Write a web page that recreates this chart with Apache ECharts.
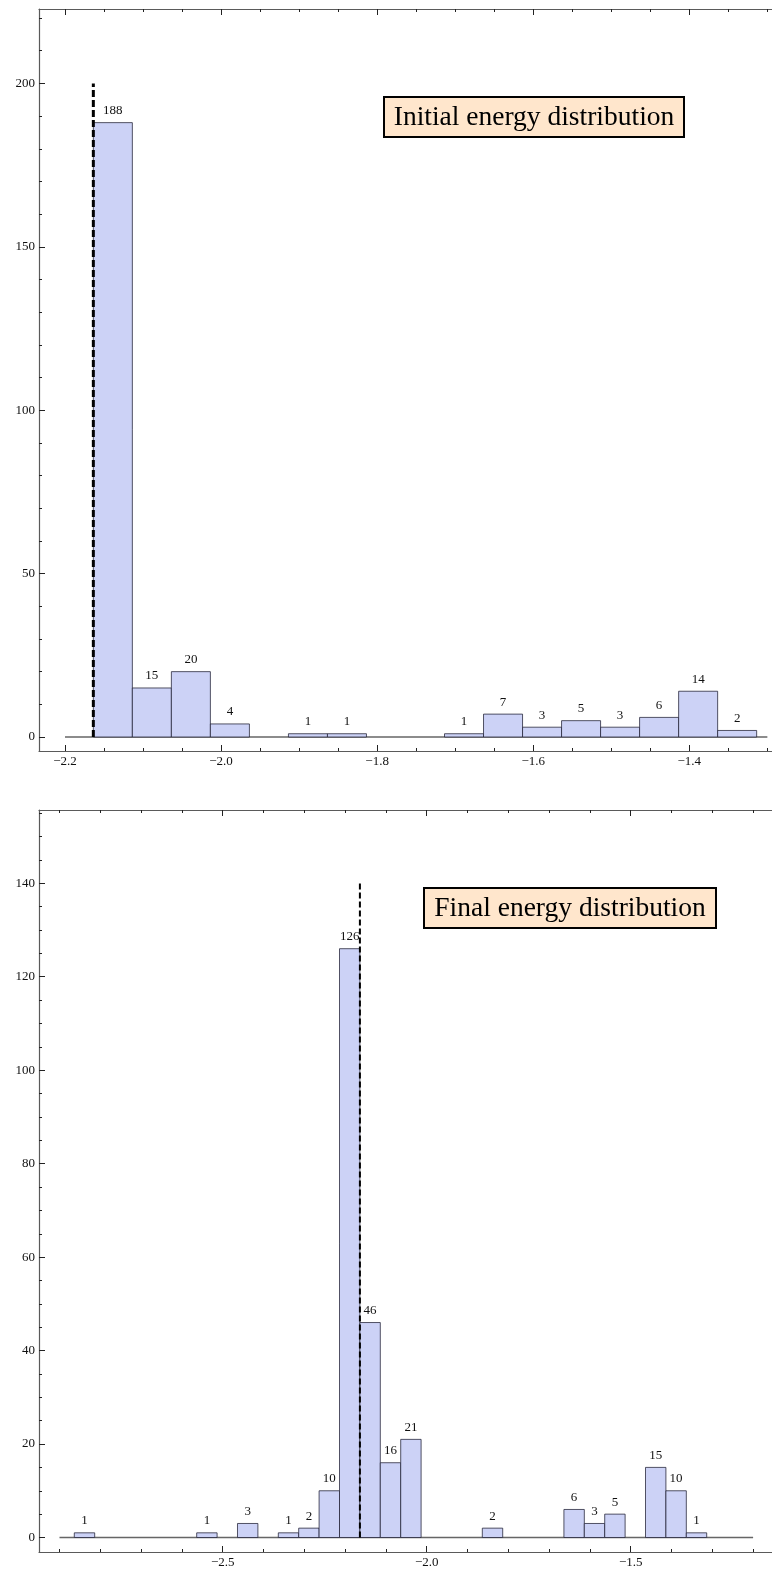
<!DOCTYPE html>
<html>
<head>
<meta charset="utf-8">
<script src="https://cdn.jsdelivr.net/npm/echarts@6/dist/echarts.min.js"></script>
<style>
  html, body { margin: 0; padding: 0; background: #fff; }
  #chart { width: 772px; height: 1574px; }
</style>
</head>
<body>
<div id="chart"></div>
<script>
// ground state energy (dashed line), histogram bins start here, width 0.05
var groundEnergy = -2.1637;
var binWidth = 0.05;

var initialBinStart = groundEnergy;
var initialCounts = [188, 15, 20, 4, 0, 1, 1, 0, 0, 1, 7, 3, 5, 3, 6, 14, 2];

var finalBinStart = groundEnergy - 14 * binWidth;
var finalCounts = [1, 0, 0, 0, 0, 0, 1, 0, 3, 0, 1, 2, 10, 126, 46, 16, 21,
                   0, 0, 0, 2, 0, 0, 0, 6, 3, 5, 0, 15, 10, 1];

var initialXTicks = [-2.2, -2.0, -1.8, -1.6, -1.4];
var initialYTicks = [0, 50, 100, 150, 200];
var finalXTicks = [-2.5, -2.0, -1.5];
var finalYTicks = [0, 20, 40, 60, 80, 100, 120, 140];

var barFill = '#CCD2F6';
var serif = '"Liberation Serif", "DejaVu Serif", serif';

function steps(from, to, step) {
  var out = [];
  var n = Math.round((to - from) / step);
  for (var i = 0; i <= n; i++) out.push(Math.round((from + i * step) * 1000) / 1000);
  return out;
}

function bins(start, counts) {
  return counts.map(function (c, i) {
    return [start + i * binWidth, start + (i + 1) * binWidth, c];
  });
}

function fmtX(v) {
  return Number(v).toFixed(1).replace('-', '\u2212');
}

var lineCol = '#5a5a5a';

// one panel = major + minor axes on bottom/top/left
function makeAxes(gi, xr, yr, xMajor, xMinor, yMajor, yMinor) {
  var xs = [], ys = [];
  var baseX = {
    type: 'value', gridIndex: gi, min: xr[0], max: xr[1],
    splitLine: { show: false }, axisLine: { show: false, onZero: false },
    axisLabel: { show: false }, axisTick: { show: false }
  };
  function ax(base, extra) { return Object.assign({}, base, extra); }
  // bottom major with labels
  xs.push(ax(baseX, {
    position: 'bottom',
    axisLine: { show: true, onZero: false, lineStyle: { color: lineCol, width: 1.2 } },
    axisTick: { show: true, inside: true, length: 6, customValues: xMajor, lineStyle: { color: '#222', width: 1 } },
    axisLabel: { show: true, customValues: xMajor, formatter: fmtX, margin: 4,
      fontFamily: serif, fontSize: 13, color: '#111' }
  }));
  xs.push(ax(baseX, {
    position: 'bottom',
    axisTick: { show: true, inside: true, length: 3, customValues: xMinor, lineStyle: { color: '#222', width: 1 } }
  }));
  // top frame
  xs.push(ax(baseX, {
    position: 'top',
    axisLine: { show: true, onZero: false, lineStyle: { color: lineCol, width: 1.2 } },
    axisTick: { show: true, inside: true, length: 6, customValues: xMajor, lineStyle: { color: '#222', width: 1 } }
  }));
  xs.push(ax(baseX, {
    position: 'top',
    axisTick: { show: true, inside: true, length: 3, customValues: xMinor, lineStyle: { color: '#222', width: 1 } }
  }));

  var baseY = {
    type: 'value', gridIndex: gi, min: yr[0], max: yr[1], position: 'left',
    splitLine: { show: false }, axisLine: { show: false, onZero: false },
    axisLabel: { show: false }, axisTick: { show: false }
  };
  ys.push(ax(baseY, {
    axisLine: { show: true, onZero: false, lineStyle: { color: lineCol, width: 1.2 } },
    axisTick: { show: true, inside: true, length: 6, customValues: yMajor, lineStyle: { color: '#222', width: 1 } },
    axisLabel: { show: true, customValues: yMajor, margin: 4,
      fontFamily: serif, fontSize: 13, color: '#111' }
  }));
  ys.push(ax(baseY, {
    axisTick: { show: true, inside: true, length: 3, customValues: yMinor, lineStyle: { color: '#222', width: 1 } }
  }));
  return { x: xs, y: ys };
}

var upperAxes = makeAxes(0, [-2.23332, -1.29405], [-4.284, 222.77],
  initialXTicks, steps(-2.2, -1.3, 0.05), initialYTicks, steps(0, 220, 10));
var lowerAxes = makeAxes(1, [-2.9502, -1.1537], [-3.103, 155.68],
  finalXTicks, steps(-2.9, -1.2, 0.1), finalYTicks, steps(0, 155, 5));

function renderBar(params, api) {
  var n = api.value(2);
  if (!n) return null;
  var p0 = api.coord([api.value(0), n]);
  var p1 = api.coord([api.value(1), 0]);
  return {
    type: 'group',
    children: [
      { type: 'rect',
        shape: { x: p0[0], y: p0[1], width: p1[0] - p0[0], height: p1[1] - p0[1] },
        style: { fill: barFill, stroke: 'rgba(30,30,50,0.75)', lineWidth: 1 } },
      { type: 'text', x: (p0[0] + p1[0]) / 2, y: p0[1] - 12,
        style: { text: String(n), font: '13px ' + serif, fill: '#111',
          textAlign: 'center', textVerticalAlign: 'middle', align: 'center', verticalAlign: 'middle' } }
    ]
  };
}

function histSeries(data, xi, yi) {
  return { type: 'custom', xAxisIndex: xi, yAxisIndex: yi, renderItem: renderBar,
    data: data, encode: { x: [0, 1], y: 2 }, silent: true, z: 2 };
}

function lineSeries(data, xi, yi, style, z) {
  return { type: 'line', xAxisIndex: xi, yAxisIndex: yi, data: data, symbol: 'none',
    lineStyle: style, silent: true, z: z };
}

function titleBox(x, y, w, h, text) {
  return {
    type: 'group', left: x, top: y,
    children: [
      { type: 'rect', shape: { x: 0, y: 0, width: w, height: h },
        style: { fill: '#FFE6CC', stroke: '#000', lineWidth: 2 } },
      { type: 'text', x: w / 2, y: h / 2 + 1,
        style: { text: text, font: '27.5px ' + serif, fill: '#000',
          textAlign: 'center', textVerticalAlign: 'middle', align: 'center', verticalAlign: 'middle' } }
    ]
  };
}

var option = {
  animation: false,
  backgroundColor: '#fff',
  grid: [
    { left: 39, top: 9, width: 733, height: 742 },
    { left: 39, top: 810, width: 733, height: 742 }
  ],
  xAxis: upperAxes.x.concat(lowerAxes.x),
  yAxis: upperAxes.y.concat(lowerAxes.y),
  series: [
    lineSeries([[-2.2, 0], [-1.3, 0]], 0, 0, { color: '#666', width: 1.3 }, 1),
    histSeries(bins(initialBinStart, initialCounts), 0, 0),
    lineSeries([[groundEnergy, 0], [groundEnergy, 200]], 0, 0,
      { color: '#000', width: 3, type: [7, 3] }, 3),
    lineSeries([[-2.9, 0], [-1.2, 0]], 4, 2, { color: '#666', width: 1.3 }, 1),
    histSeries(bins(finalBinStart, finalCounts), 4, 2),
    lineSeries([[groundEnergy, 0], [groundEnergy, 140]], 4, 2,
      { color: '#000', width: 2, type: [6, 3] }, 3)
  ],
  graphic: [
    titleBox(383, 96, 300, 40, 'Initial energy distribution'),
    titleBox(423, 887, 292, 40, 'Final energy distribution')
  ]
};

var chart = echarts.init(document.getElementById('chart'));
chart.setOption(option);
</script>
</body>
</html>
